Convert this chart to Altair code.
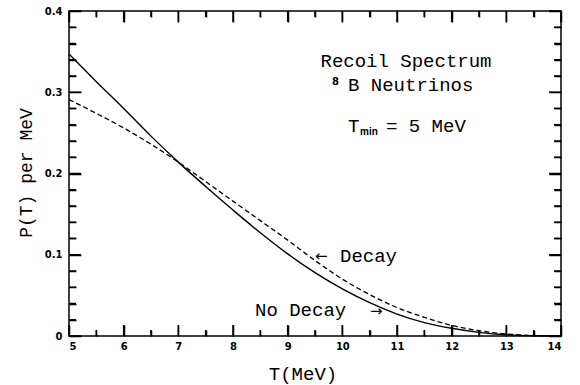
import altair as alt
import pandas as pd

# Recoil energy T (MeV) and spectrum P(T) per MeV for 8B solar neutrinos
t_mev = [5, 5.5, 6, 6.5, 7, 7.5, 8, 8.5, 9, 9.5, 10, 10.5, 11, 11.5, 12, 12.5, 13, 13.5, 14]
p_no_decay = [0.347, 0.313, 0.280, 0.246, 0.214, 0.184, 0.155, 0.127, 0.101, 0.078, 0.058,
              0.041, 0.027, 0.0165, 0.0095, 0.0045, 0.0015, 0.0003, 0.0]
p_decay = [0.291, 0.274, 0.256, 0.236, 0.214, 0.190, 0.166, 0.142, 0.118, 0.093, 0.070,
           0.051, 0.035, 0.023, 0.013, 0.0065, 0.0025, 0.0006, 0.0]

# Tick positions
x_major = [5, 6, 7, 8, 9, 10, 11, 12, 13, 14]
x_minor = [5.5, 6.5, 7.5, 8.5, 9.5, 10.5, 11.5, 12.5, 13.5]
y_major = [0, 0.1, 0.2, 0.3, 0.4]
y_minor = [0.02, 0.04, 0.06, 0.08, 0.12, 0.14, 0.16, 0.18, 0.22, 0.24, 0.26, 0.28,
           0.32, 0.34, 0.36, 0.38]

W, H = 492, 325
INK = "#000000"
MONO = "Liberation Mono"


def inward(length, span):
    # dash pattern for a grid line: a short tick at each edge of the frame
    return [length, span - 2 * length, length, 100]


x_is_major = "abs(datum.value - round(datum.value)) < 1e-6"
y_is_major = "abs(datum.value * 10 - round(datum.value * 10)) < 1e-6"

xs = alt.Scale(domain=[5, 14], nice=False, zero=False)
ys = alt.Scale(domain=[0, 0.4], nice=False, zero=False)
x_axis = alt.Axis(
    values=sorted(x_major + x_minor), format="~g",
    labelExpr=f"{x_is_major} ? datum.label : ''", labelOverlap=False,
    grid=True, gridColor=INK, gridWidth=1.5, gridOpacity=1,
    gridDash={"condition": {"test": x_is_major, "value": inward(11, H)},
              "value": inward(6, H)},
)
y_axis = alt.Axis(
    values=sorted(y_major + y_minor), format="~g",
    labelExpr=f"{y_is_major} ? datum.label : ''", labelOverlap=False,
    grid=True, gridColor=INK, gridWidth=1.5, gridOpacity=1,
    gridDash={"condition": {"test": y_is_major, "value": inward(12, W)},
              "value": inward(7, W)},
)


def X(field):
    return alt.X(f"{field}:Q", scale=xs, axis=x_axis, title=None)


def Y(field):
    return alt.Y(f"{field}:Q", scale=ys, axis=y_axis, title=None)


curves = pd.DataFrame({
    "T": t_mev * 2,
    "P": p_no_decay + p_decay,
    "series": ["No Decay"] * len(t_mev) + ["Decay"] * len(t_mev),
})

no_decay_line = alt.Chart(curves).transform_filter(
    alt.datum.series == "No Decay"
).mark_line(color=INK, strokeWidth=1.4, interpolate="monotone").encode(x=X("T"), y=Y("P"))

decay_line = alt.Chart(curves).transform_filter(
    alt.datum.series == "Decay"
).mark_line(color=INK, strokeWidth=1.3, strokeDash=[5, 3], interpolate="monotone").encode(
    x=X("T"), y=Y("P"))

# Inward frame ticks drawn as short rules as well
xmaj = pd.DataFrame({"T": x_major})
xmin = pd.DataFrame({"T": x_minor})
ymaj = pd.DataFrame({"P": y_major})
ymin = pd.DataFrame({"P": y_minor})

tick_layers = []
for df, length in ((xmaj, 11), (xmin, 6)):
    tick_layers.append(alt.Chart(df).mark_rule(color=INK, strokeWidth=1.5).encode(
        x=X("T"), y=alt.value(H), y2=alt.value(H - length)))
    tick_layers.append(alt.Chart(df).mark_rule(color=INK, strokeWidth=1.5).encode(
        x=X("T"), y=alt.value(0), y2=alt.value(length)))
for df, length in ((ymaj, 12), (ymin, 7)):
    tick_layers.append(alt.Chart(df).mark_rule(color=INK, strokeWidth=1.5).encode(
        y=Y("P"), x=alt.value(0), x2=alt.value(length)))
    tick_layers.append(alt.Chart(df).mark_rule(color=INK, strokeWidth=1.5).encode(
        y=Y("P"), x=alt.value(W), x2=alt.value(W - length)))

one = pd.DataFrame({"k": [0]})


def label(text, x, y, size=19, font=MONO, align="left", baseline="alphabetic",
          weight="normal", angle=0):
    return alt.Chart(one).mark_text(
        text=text, font=font, fontSize=size, align=align, baseline=baseline,
        fontWeight=weight, color=INK, angle=angle,
    ).encode(x=alt.value(x), y=alt.value(y))


texts = [
    label("Recoil Spectrum", 337, 56, align="center"),
    label("8", 263, 74, size=10, font="DejaVu Sans", weight="bold"),
    label("B Neutrinos", 279, 80),
    label("T", 279, 121),
    label("min", 291, 124, size=10, font="Liberation Sans", weight="bold"),
    label("= 5 MeV", 317, 121),
    label("←", 246, 245, size=15, font="DejaVu Sans", baseline="middle"),
    label("Decay", 271, 251),
    label("No Decay", 186, 305),
    label("→", 301, 300, size=15, font="DejaVu Sans", baseline="middle"),
    label("T(MeV)", 234, 369, align="center"),
    label("P(T) per MeV", -42, 162, size=18, align="center", baseline="middle", angle=270),
]

chart = alt.layer(
    *tick_layers, no_decay_line, decay_line, *texts,
).properties(
    width=W, height=H,
    autosize=alt.AutoSizeParams(type="none"),
    padding={"left": 69, "top": 11, "right": 19, "bottom": 49},
).configure_view(
    stroke=INK, strokeWidth=1.5,
).configure_axis(
    domain=False, ticks=False,
    labelFont="DejaVu Sans", labelFontWeight="bold", labelFontSize=10, labelColor=INK,
).configure_axisX(
    labelPadding=5,
).configure_axisY(
    labelPadding=7,
)

chart.save("out.html", embed_options={"renderer": "svg", "actions": False})
